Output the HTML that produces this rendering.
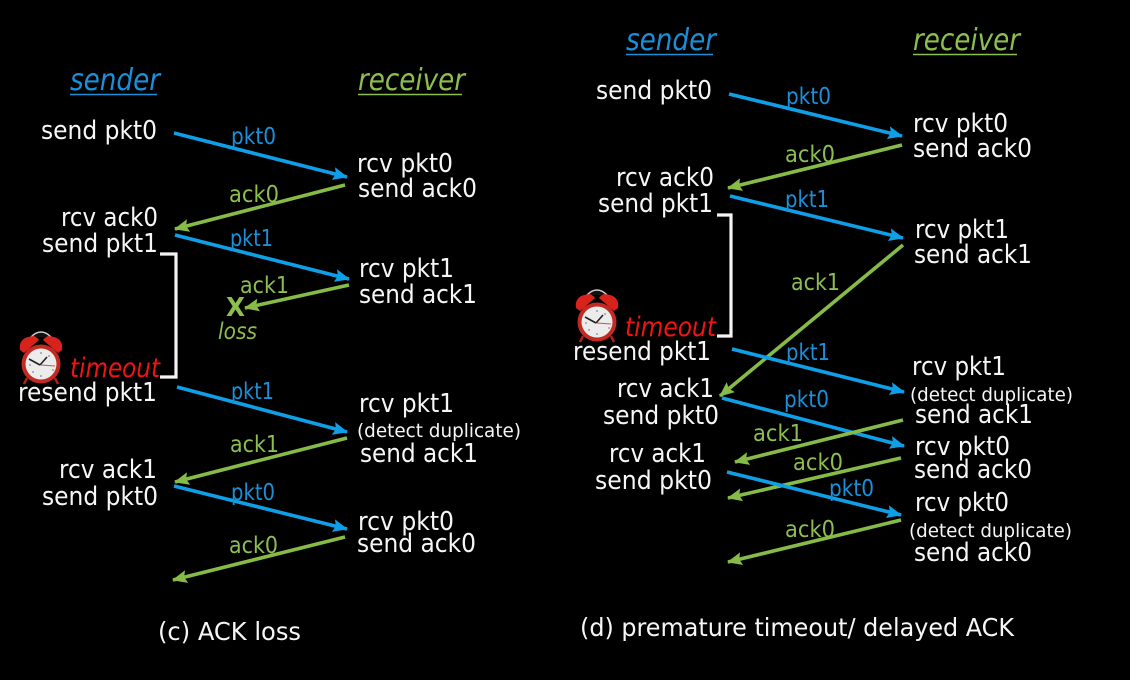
<!DOCTYPE html>
<html>
<head>
<meta charset="utf-8">
<style>
html,body{margin:0;padding:0;background:#000;width:1130px;height:680px;overflow:hidden}
svg{display:block;filter:blur(.35px)}
text{font-family:"DejaVu Sans","Liberation Sans",sans-serif}
.w text{fill:#f6f6f6;font-size:25.5px}
.w .d{font-size:19px}
.w .cap{font-size:25px}
.b text{fill:#1b8fd8;font-size:23.5px}
.g text{fill:#8cbe50;font-size:23.5px}
.b .h,.g .h{font-size:30px;font-style:italic}
.r{fill:#f01414;font-size:27px;font-style:italic}
.bl{stroke:#0f9fe6;stroke-width:3.6;fill:none;marker-end:url(#mb)}
.gl{stroke:#86bb48;stroke-width:3.6;fill:none;marker-end:url(#mg)}
.br{stroke:#f4f4f4;stroke-width:3.2;fill:none}
</style>
</head>
<body>
<svg width="1130" height="680" viewBox="0 0 1130 680" xmlns="http://www.w3.org/2000/svg">
<defs>
<marker id="mb" markerUnits="userSpaceOnUse" markerWidth="16" markerHeight="14" refX="14" refY="6.500" orient="auto"><path d="M0 0L15 6.500L0 13L2.500 6.500Z" fill="#0f9fe6"/></marker>
<marker id="mg" markerUnits="userSpaceOnUse" markerWidth="16" markerHeight="14" refX="14" refY="6.500" orient="auto"><path d="M0 0L15 6.500L0 13L2.500 6.500Z" fill="#86bb48"/></marker>
<g id="clock">
<path d="M-10 -27Q0 -37 10 -27" stroke="#cfcfcf" stroke-width="1.500" fill="#111"/>
<path d="M-21 -14Q-23 -27 -7 -28Q-3 -26 -2 -24L-17 -11Z" fill="#d8231c"/>
<path d="M21 -14Q23 -27 7 -28Q3 -26 2 -24L17 -11Z" fill="#d8231c"/>
<path d="M-14 14L-17 20M14 14L17 20" stroke="#b02018" stroke-width="2.500"/>
<circle r="19.500" fill="#c22a22"/>
<circle r="15.500" fill="#ececec"/>
<path d="M-1 1L-12 -5M-1 1L6 -7" stroke="#222" stroke-width="1.600" fill="none"/>
<path d="M0 1L14 2" stroke="#d05050" stroke-width="1"/>
<g fill="#888"><circle cx="0" cy="-11" r=".9"/><circle cx="0" cy="12" r=".9"/><circle cx="-11" cy="1" r=".9"/><circle cx="12" cy="6" r=".9"/><circle cx="-8" cy="8" r=".9"/><circle cx="8" cy="-8" r=".9"/></g>
</g>
</defs>

<!-- Panel c arrows -->
<path class="bl" d="M174 133L347 177"/>
<path class="gl" d="M345 185L175 229"/>
<path class="bl" d="M175 235L349 279"/>
<path class="gl" d="M349 285L245 308"/>
<path class="bl" d="M177 387L347 432"/>
<path class="gl" d="M347 438L175 482"/>
<path class="bl" d="M174 486L347 529"/>
<path class="gl" d="M345 537L173 580"/>
<path class="br" d="M160 254H176V377H160"/>

<!-- Panel d arrows -->
<path class="bl" d="M729 94L902 136"/>
<path class="gl" d="M902 145L728 188"/>
<path class="bl" d="M730 196L903 238"/>
<path class="gl" d="M903 245L720 396"/>
<path class="bl" d="M732 349L904 392"/>
<path class="bl" d="M722 398L904 446"/>
<path class="gl" d="M903 420L735 462"/>
<path class="gl" d="M901 458L728 498"/>
<path class="bl" d="M727 472L901 515"/>
<path class="gl" d="M901 520L728 562"/>
<path class="br" d="M717 215H731V336H717"/>

<use href="#clock" x="41" y="364"/>
<use href="#clock" x="597" y="322"/>

<!-- Headers -->
<g class="b">
<text class="h" x="70" y="90" textLength="90" lengthAdjust="spacingAndGlyphs">sender</text>
<text class="h" x="626" y="50" textLength="90" lengthAdjust="spacingAndGlyphs">sender</text>
</g>
<g class="g">
<text class="h" x="358" y="90" textLength="107" lengthAdjust="spacingAndGlyphs">receiver</text>
<text class="h" x="913" y="50" textLength="107" lengthAdjust="spacingAndGlyphs">receiver</text>
</g>
<path d="M70 94.500H157M626 54.500H713" stroke="#1b8fd8" stroke-width="1.500"/>
<path d="M358 94.500H462M913 54.500H1017" stroke="#8cbe50" stroke-width="1.500"/>

<!-- White labels panel c -->
<g class="w">
<text x="41" y="139" textLength="116" lengthAdjust="spacingAndGlyphs">send pkt0</text>
<text x="357" y="172" textLength="96" lengthAdjust="spacingAndGlyphs">rcv pkt0</text>
<text x="358" y="197" textLength="119" lengthAdjust="spacingAndGlyphs">send ack0</text>
<text x="61" y="226" textLength="97" lengthAdjust="spacingAndGlyphs">rcv ack0</text>
<text x="42" y="252" textLength="116" lengthAdjust="spacingAndGlyphs">send pkt1</text>
<text x="359" y="277" textLength="95" lengthAdjust="spacingAndGlyphs">rcv pkt1</text>
<text x="359" y="303" textLength="118" lengthAdjust="spacingAndGlyphs">send ack1</text>
<text x="18" y="401" textLength="139" lengthAdjust="spacingAndGlyphs">resend pkt1</text>
<text x="359" y="412" textLength="95" lengthAdjust="spacingAndGlyphs">rcv pkt1</text>
<text class="d" x="357" y="437" textLength="164" lengthAdjust="spacingAndGlyphs">(detect duplicate)</text>
<text x="360" y="462" textLength="118" lengthAdjust="spacingAndGlyphs">send ack1</text>
<text x="59" y="478" textLength="98" lengthAdjust="spacingAndGlyphs">rcv ack1</text>
<text x="42" y="505" textLength="116" lengthAdjust="spacingAndGlyphs">send pkt0</text>
<text x="358" y="530" textLength="96" lengthAdjust="spacingAndGlyphs">rcv pkt0</text>
<text x="357" y="552" textLength="119" lengthAdjust="spacingAndGlyphs">send ack0</text>
<text class="cap" x="158" y="640" textLength="143" lengthAdjust="spacingAndGlyphs">(c) ACK loss</text>

<!-- White labels panel d -->
<text x="596" y="99" textLength="116" lengthAdjust="spacingAndGlyphs">send pkt0</text>
<text x="913" y="132" textLength="95" lengthAdjust="spacingAndGlyphs">rcv pkt0</text>
<text x="913" y="157" textLength="119" lengthAdjust="spacingAndGlyphs">send ack0</text>
<text x="616" y="186" textLength="98" lengthAdjust="spacingAndGlyphs">rcv ack0</text>
<text x="598" y="212" textLength="115" lengthAdjust="spacingAndGlyphs">send pkt1</text>
<text x="915" y="238" textLength="94" lengthAdjust="spacingAndGlyphs">rcv pkt1</text>
<text x="914" y="263" textLength="118" lengthAdjust="spacingAndGlyphs">send ack1</text>
<text x="573" y="360" textLength="138" lengthAdjust="spacingAndGlyphs">resend pkt1</text>
<text x="912" y="375" textLength="94" lengthAdjust="spacingAndGlyphs">rcv pkt1</text>
<text class="d" x="910" y="401" textLength="163" lengthAdjust="spacingAndGlyphs">(detect duplicate)</text>
<text x="617" y="397" textLength="97" lengthAdjust="spacingAndGlyphs">rcv ack1</text>
<text x="603" y="424" textLength="116" lengthAdjust="spacingAndGlyphs">send pkt0</text>
<text x="915" y="423" textLength="118" lengthAdjust="spacingAndGlyphs">send ack1</text>
<text x="915" y="455" textLength="95" lengthAdjust="spacingAndGlyphs">rcv pkt0</text>
<text x="914" y="478" textLength="118" lengthAdjust="spacingAndGlyphs">send ack0</text>
<text x="609" y="462" textLength="97" lengthAdjust="spacingAndGlyphs">rcv ack1</text>
<text x="595" y="489" textLength="117" lengthAdjust="spacingAndGlyphs">send pkt0</text>
<text x="915" y="511" textLength="94" lengthAdjust="spacingAndGlyphs">rcv pkt0</text>
<text class="d" x="909" y="537" textLength="163" lengthAdjust="spacingAndGlyphs">(detect duplicate)</text>
<text x="914" y="561" textLength="118" lengthAdjust="spacingAndGlyphs">send ack0</text>
<text class="cap" x="580" y="636" textLength="434" lengthAdjust="spacingAndGlyphs">(d) premature timeout/ delayed ACK</text>
</g>

<text class="r" x="70" y="377" textLength="90" lengthAdjust="spacingAndGlyphs">timeout</text>
<text class="r" x="625" y="336" textLength="91" lengthAdjust="spacingAndGlyphs">timeout</text>

<!-- Blue packet labels -->
<g class="b">
<text x="231" y="144" textLength="45" lengthAdjust="spacingAndGlyphs">pkt0</text>
<text x="230" y="246" textLength="43" lengthAdjust="spacingAndGlyphs">pkt1</text>
<text x="231" y="399" textLength="43" lengthAdjust="spacingAndGlyphs">pkt1</text>
<text x="231" y="500" textLength="44" lengthAdjust="spacingAndGlyphs">pkt0</text>
<text x="786" y="104" textLength="45" lengthAdjust="spacingAndGlyphs">pkt0</text>
<text x="785" y="207" textLength="44" lengthAdjust="spacingAndGlyphs">pkt1</text>
<text x="786" y="360" textLength="44" lengthAdjust="spacingAndGlyphs">pkt1</text>
<text x="784" y="407" textLength="45" lengthAdjust="spacingAndGlyphs">pkt0</text>
<text x="829" y="496" textLength="45" lengthAdjust="spacingAndGlyphs">pkt0</text>
</g>

<!-- Green ack labels -->
<g class="g">
<text x="229" y="202" textLength="50" lengthAdjust="spacingAndGlyphs">ack0</text>
<text x="240" y="293" textLength="49" lengthAdjust="spacingAndGlyphs">ack1</text>
<text x="230" y="452" textLength="49" lengthAdjust="spacingAndGlyphs">ack1</text>
<text x="229" y="553" textLength="49" lengthAdjust="spacingAndGlyphs">ack0</text>
<text x="218" y="339" textLength="39" lengthAdjust="spacingAndGlyphs" font-style="italic">loss</text>
<text x="226" y="316" textLength="19" lengthAdjust="spacingAndGlyphs" font-weight="bold" style="font-size:26px">X</text>
<text x="785" y="162" textLength="50" lengthAdjust="spacingAndGlyphs">ack0</text>
<text x="791" y="290" textLength="49" lengthAdjust="spacingAndGlyphs">ack1</text>
<text x="753" y="441" textLength="50" lengthAdjust="spacingAndGlyphs">ack1</text>
<text x="793" y="470" textLength="50" lengthAdjust="spacingAndGlyphs">ack0</text>
<text x="785" y="537" textLength="50" lengthAdjust="spacingAndGlyphs">ack0</text>
</g>
</svg>
</body>
</html>
